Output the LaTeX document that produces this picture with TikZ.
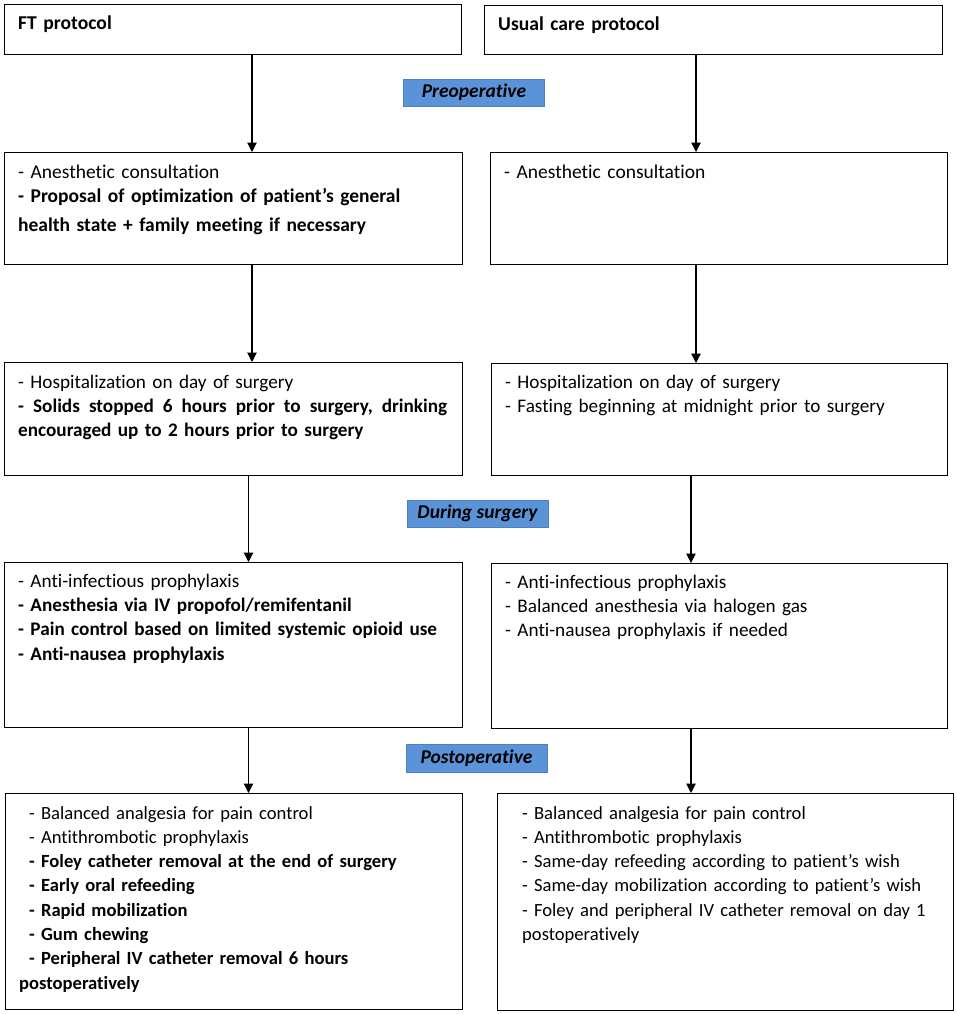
\documentclass[tikz,border=0pt]{standalone}
\usepackage{fontspec}
\setmainfont{Carlito}[Ligatures={NoCommon,NoRare,NoContextual}]
\usetikzlibrary{arrows.meta}
\definecolor{phaseblue}{RGB}{91,147,216}
\definecolor{phaseedge}{RGB}{79,129,189}
\begin{document}
\begin{tikzpicture}[x=1pt,y=-1pt,
  box/.style={draw=black, line width=1.4pt, inner sep=0pt, anchor=north west},
  txt/.style={anchor=base west, inner sep=0pt, text width=440pt, align=left,
    font=\fontsize{19.2}{24.4}\selectfont},
  smalltxt/.style={txt, font=\fontsize{18.6}{24.3}\selectfont},
  titletxt/.style={txt, font=\fontsize{19.6}{24}\selectfont\bfseries},
  phase/.style={fill=phaseblue, draw=phaseedge, line width=0.6pt, inner sep=0pt,
    minimum width=141pt, minimum height=27pt,
    font=\fontsize{19.5}{24}\selectfont\bfseries\itshape},
  arr/.style={line width=1.1pt, -{Triangle[width=9.5pt,length=9.5pt]}}]
\useasboundingbox (0,0) rectangle (957,1014);
% boxes
\node[box, minimum width=457pt, minimum height=50pt] (b1l) at (4,4) {};
\node[box, minimum width=458pt, minimum height=49pt] (b1r) at (484,5) {};
\node[box, minimum width=458pt, minimum height=112pt] (b2l) at (4,152) {};
\node[box, minimum width=457pt, minimum height=112pt] (b2r) at (490,152) {};
\node[box, minimum width=458pt, minimum height=113pt] (b3l) at (4,362) {};
\node[box, minimum width=456pt, minimum height=112pt] (b3r) at (491,363) {};
\node[box, minimum width=458pt, minimum height=165pt] (b4l) at (4,562) {};
\node[box, minimum width=456pt, minimum height=165pt] (b4r) at (491,563) {};
\node[box, minimum width=457pt, minimum height=216pt] (b5l) at (5,793) {};
\node[box, minimum width=456pt, minimum height=217pt] (b5r) at (497,793) {};
% texts
\node[titletxt, xshift=14pt, yshift=-26pt] (t1l) at (b1l.north west) {FT protocol};
\node[titletxt, xshift=14pt, yshift=-26pt] (t1r) at (b1r.north west) {Usual care protocol};
\node[txt, font=\fontsize{19.5}{24.6}\selectfont, xshift=14pt, yshift=-26pt] (t2l) at (b2l.north west) {- Anesthetic consultation\\
\textbf{- Proposal of optimization of patient’s general}\\[4pt]
\textbf{health state + family meeting if necessary}};
\node[txt, font=\fontsize{19.5}{24.6}\selectfont, xshift=14pt, yshift=-26pt] (t2r) at (b2r.north west) {- Anesthetic consultation};
\node[txt, xshift=14pt, yshift=-26pt] (t3l) at (b3l.north west) {- Hospitalization on day of surgery\\
\makebox[429pt][l]{\bfseries -\hfill Solids\hfill stopped\hfill 6\hfill hours\hfill prior\hfill to\hfill surgery,\hfill drinking}\\
\textbf{encouraged up to 2 hours prior to surgery}};
\node[txt, xshift=14pt, yshift=-25pt] (t3r) at (b3r.north west) {- Hospitalization on day of surgery\\
- Fasting beginning at midnight prior to surgery};
\node[txt, xshift=14pt, yshift=-25pt] (t4l) at (b4l.north west) {- Anti-infectious prophylaxis\\
\textbf{- Anesthesia via IV propofol/remifentanil}\\
\textbf{- Pain control based on limited systemic opioid use}\\
\textbf{- Anti-nausea prophylaxis}};
\node[txt, xshift=14pt, yshift=-25pt] (t4r) at (b4r.north west) {- Anti-infectious prophylaxis\\
- Balanced anesthesia via halogen gas\\
- Anti-nausea prophylaxis if needed};
\node[smalltxt, xshift=14pt, yshift=-26pt] (t5l) at (b5l.north west) {\hspace*{10pt}- Balanced analgesia for pain control\\
\hspace*{10pt}- Antithrombotic prophylaxis\\
\hspace*{10pt}\textbf{- Foley catheter removal at the end of surgery}\\
\hspace*{10pt}\textbf{- Early oral refeeding}\\
\hspace*{10pt}\textbf{- Rapid mobilization}\\
\hspace*{10pt}\textbf{- Gum chewing}\\
\hspace*{10pt}\textbf{- Peripheral IV catheter removal 6 hours}\\
\textbf{postoperatively}};
\node[smalltxt, xshift=25pt, yshift=-26pt] (t5r) at (b5r.north west) {- Balanced analgesia for pain control\\
- Antithrombotic prophylaxis\\
- Same-day refeeding according to patient’s wish\\
- Same-day mobilization according to patient’s wish\\
- Foley and peripheral IV catheter removal on day 1\\
postoperatively};
% phase labels
\node[phase] (pre) at (474,92.5) {Preoperative};
\node[phase] (dur) at (477.5,513.5) {During surgery};
\node[phase, minimum height=28pt] (post) at (476.5,758) {Postoperative};
% arrow columns
\coordinate (xa) at (252,0);
\coordinate (xb) at (248.5,0);
\coordinate (xc) at (696,0);
\coordinate (xd) at (691,0);
\draw[arr] (b1l.south -| xa) -- (b2l.north -| xa);
\draw[arr] (b2l.south -| xa) -- (b3l.north -| xa);
\draw[arr] (b3l.south -| xb) -- (b4l.north -| xb);
\draw[arr] (b4l.south -| xb) -- (b5l.north -| xb);
\draw[arr] (b1r.south -| xc) -- (b2r.north -| xc);
\draw[arr] (b2r.south -| xc) -- (b3r.north -| xc);
\draw[arr] (b3r.south -| xd) -- (b4r.north -| xd);
\draw[arr] (b4r.south -| xd) -- (b5r.north -| xd);
\end{tikzpicture}
\end{document}
